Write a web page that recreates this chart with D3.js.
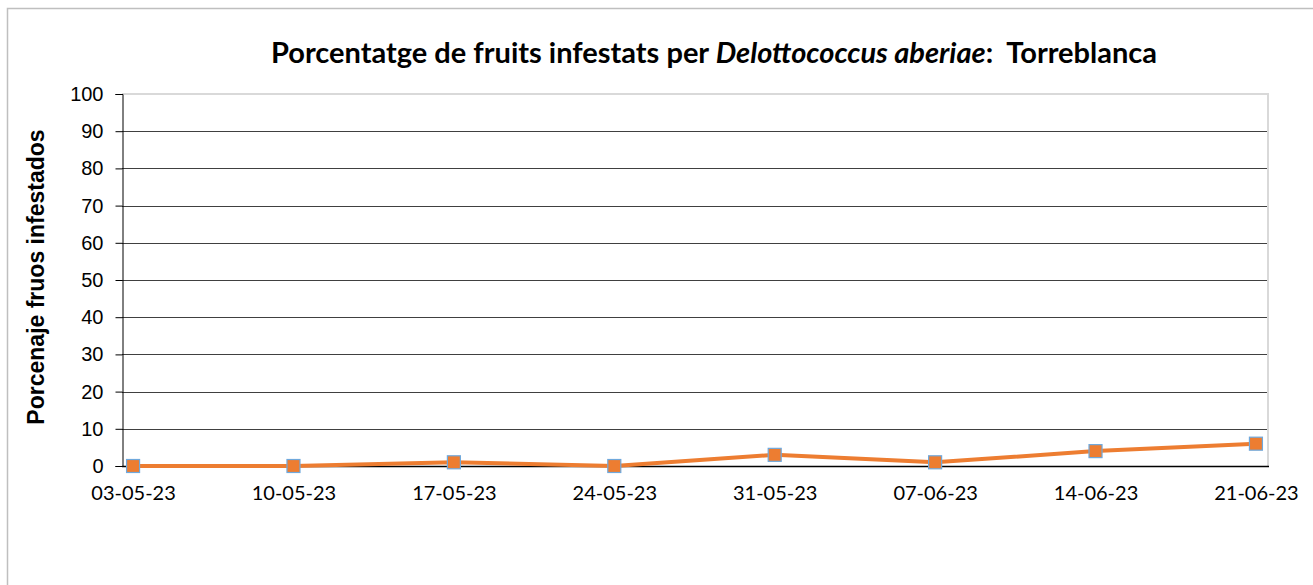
<!DOCTYPE html>
<html>
<head>
<meta charset="utf-8">
<script src="https://cdn.jsdelivr.net/npm/d3@7"></script>
<style>
  body { margin: 0; background: #fff; }
  svg { display: block; }
</style>
</head>
<body>
<div id="chart"></div>
<script>
// data
var dates  = ['03-05-23', '10-05-23', '17-05-23', '24-05-23', '31-05-23', '07-06-23', '14-06-23', '21-06-23'];
var values = [0, 0, 1, 0, 3, 1, 4, 6];
var yTicks = [0, 10, 20, 30, 40, 50, 60, 70, 80, 90, 100];

var width  = 1313;
var height = 585;

var plotLeft   = 122;
var plotRight  = 1267;
var plotTop    = 94;
var plotBottom = 466;

var svg = d3.select('#chart').append('svg')
    .attr('width', width)
    .attr('height', height);

// outer chart border (runs past the picture on right and bottom)
svg.append('rect')
    .attr('x', 7.5).attr('y', 8.5)
    .attr('width', 1330).attr('height', 620)
    .attr('fill', '#fff')
    .attr('stroke', '#bfbfbf')
    .attr('stroke-width', 1.5);

var x = d3.scalePoint()
    .domain(dates)
    .range([plotLeft, plotRight])
    .padding(0.069);

var y = d3.scaleLinear()
    .domain([0, 100])
    .range([plotBottom, plotTop]);

// plot area border (light grey top/right)
svg.append('line')
    .attr('x1', plotLeft).attr('x2', plotRight + 2)
    .attr('y1', plotTop).attr('y2', plotTop)
    .attr('stroke', '#d9d9d9').attr('stroke-width', 2);
svg.append('line')
    .attr('x1', plotRight + 1).attr('x2', plotRight + 1)
    .attr('y1', plotTop).attr('y2', plotBottom)
    .attr('stroke', '#d9d9d9').attr('stroke-width', 2);

// gridlines
svg.append('g')
    .selectAll('line')
    .data(yTicks.filter(function(d) { return d > 0 && d < 100; }))
    .enter().append('line')
    .attr('x1', plotLeft).attr('x2', plotRight)
    .attr('y1', function(d) { return Math.round(y(d)) + 0.5; })
    .attr('y2', function(d) { return Math.round(y(d)) + 0.5; })
    .attr('stroke', '#404040')
    .attr('stroke-width', 1);

// y axis
var yAxis = svg.append('g')
    .attr('transform', 'translate(' + (plotLeft + 0.5) + ',0)')
    .call(d3.axisLeft(y).tickValues(yTicks).tickSize(7).tickPadding(12));
yAxis.select('.domain').attr('stroke', '#000');
yAxis.selectAll('.tick line').attr('stroke', '#000');
yAxis.selectAll('.tick text')
    .attr('font-family', 'Liberation Sans, Arial, sans-serif')
    .attr('font-size', 20)
    .attr('fill', '#000');

// x axis line
svg.append('line')
    .attr('x1', plotLeft).attr('x2', plotRight + 2)
    .attr('y1', plotBottom + 0.5).attr('y2', plotBottom + 0.5)
    .attr('stroke', '#000').attr('stroke-width', 1.5);

// x labels
var xAxis = svg.append('g')
    .attr('transform', 'translate(0,' + plotBottom + ')')
    .call(d3.axisBottom(x).tickSize(0).tickPadding(20));
xAxis.select('.domain').remove();
xAxis.selectAll('.tick text')
    .attr('font-family', 'Lato, sans-serif')
    .attr('font-size', 20)
    .attr('fill', '#000');

// y title
svg.append('text')
    .attr('transform', 'translate(44,' + 277 + ') rotate(-90)')
    .attr('text-anchor', 'middle')
    .attr('font-family', 'Liberation Sans, Arial, sans-serif')
    .attr('font-weight', 'bold')
    .attr('font-size', 23)
    .text('Porcenaje fruos infestados');

// title
var title = svg.append('text')
    .attr('x', 714)
    .attr('y', 63)
    .attr('text-anchor', 'middle')
    .attr('font-family', 'Lato, sans-serif')
    .attr('font-weight', 'bold')
    .attr('font-size', 29);
title.append('tspan').text('Porcentatge de fruits infestats per ');
title.append('tspan').attr('font-style', 'italic').text('Delottococcus aberiae');
title.append('tspan').text(':\u00a0 Torreblanca');

// line
var line = d3.line()
    .x(function(d, i) { return x(dates[i]); })
    .y(function(d) { return y(d); });

svg.append('path')
    .datum(values)
    .attr('d', line)
    .attr('fill', 'none')
    .attr('stroke', '#ed7d31')
    .attr('stroke-width', 4)
    .attr('stroke-linejoin', 'round');

// markers
svg.append('g')
    .selectAll('rect')
    .data(values)
    .enter().append('rect')
    .attr('x', function(d, i) { return x(dates[i]) - 6.5; })
    .attr('y', function(d) { return y(d) - 6.5; })
    .attr('width', 13)
    .attr('height', 13)
    .attr('fill', '#ed7d31')
    .attr('stroke', '#6fa8dc')
    .attr('stroke-width', 1.2);
</script>
</body>
</html>
